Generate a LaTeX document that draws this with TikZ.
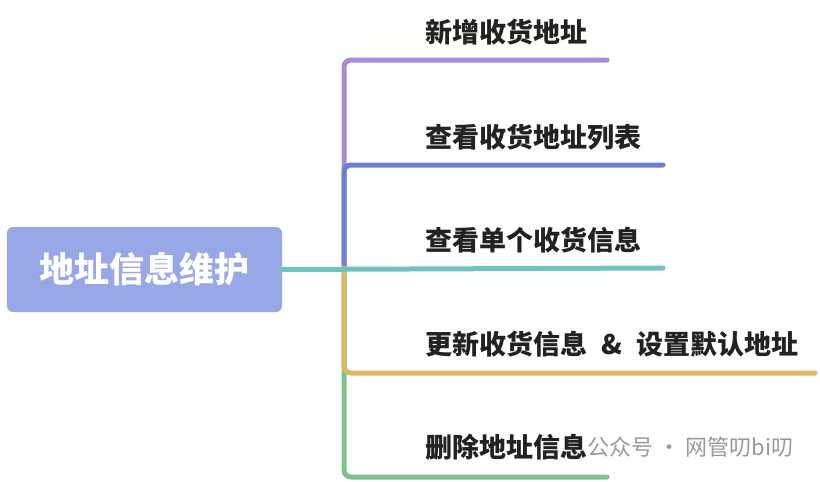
\documentclass[tikz,border=0pt]{standalone}
\usepackage{fontspec}
\newfontfamily\cjk{Noto Sans CJK SC}
\usepackage{tikz}
\definecolor{rootfill}{HTML}{98A7E6}
\definecolor{brPurple}{HTML}{A48DD6}
\definecolor{brBlue}{HTML}{6F7FD2}
\definecolor{brTeal}{HTML}{70C2C2}
\definecolor{brGold}{HTML}{DDB866}
\definecolor{brGreen}{HTML}{7EC28F}
\definecolor{labelInk}{HTML}{222222}

\begin{document}
\begin{tikzpicture}[x=1pt,y=-1pt,
  rootbox/.style={fill=rootfill, rounded corners=6pt, minimum width=275pt,
    minimum height=85pt, text=white, font=\cjk\bfseries\fontsize{35}{40}\selectfont},
  leaf/.style={anchor=west, inner sep=0pt, text=labelInk,
    font=\cjk\bfseries\fontsize{27}{32}\selectfont},
  branch/.style={line width=5pt, line cap=round, rounded corners=7pt}]
  \useasboundingbox (0,0) rectangle (820,482);
  % root and the hub on the trunk
  \node[rootbox] (root) at (144.5,269.5) {地址信息维护};
  \coordinate (hub) at (344,268);
  % ends of the branch lines
  \coordinate (e1) at (607,60);
  \coordinate (e2) at (663,165);
  \coordinate (e3) at (663,268);
  \coordinate (e4) at (815,373);
  \coordinate (e5) at (607,477);
  % outer branches first, inner ones on top
  \draw[branch, brPurple] (hub) |- (e1);
  \draw[branch, brGreen] (hub) |- (e5);
  \draw[branch, brBlue] (hub) |- (e2);
  \draw[branch, brGold] (hub) |- (e4);
  \draw[branch, brTeal, rounded corners=0pt] (root.east) -- (e3);
  % labels over the lines
  \node[leaf] (l1) at (425,32) {新增收货地址};
  \node[leaf] (l2) at (425,137) {查看收货地址列表};
  \node[leaf] (l3) at (425,240) {查看单个收货信息};
  \node[leaf] (l4) at (425,344) {更新收货信息\hspace{14pt}\&\hspace{14pt}设置默认地址};
  \node[leaf] (l5) at (425,447) {删除地址信息};
  % watermark
  \node[anchor=west, inner sep=0pt, text=black!40, font=\cjk\fontsize{22}{26}\selectfont]
    (mark) at (l5.east) {公众号 · 网管叨bi叨};
\end{tikzpicture}
\end{document}
